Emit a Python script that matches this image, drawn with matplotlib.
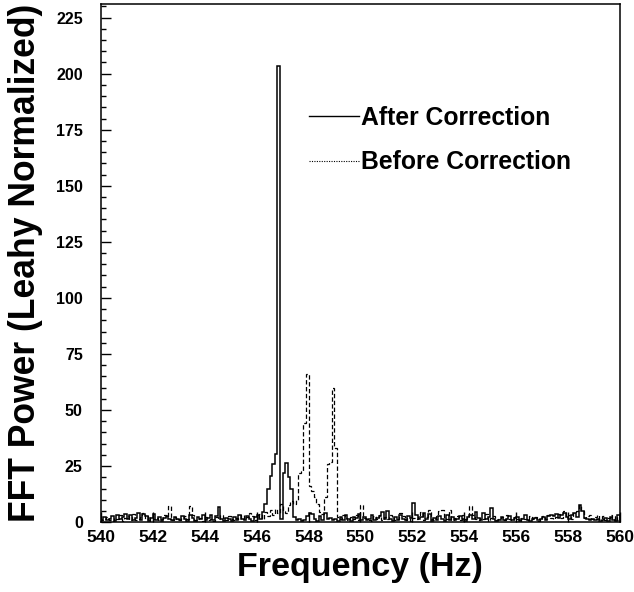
import numpy as np
import matplotlib
matplotlib.use('Agg')
import matplotlib.pyplot as plt
from matplotlib.lines import Line2D

plt.rcParams['font.family'] = ['Liberation Sans', 'DejaVu Sans']
plt.rcParams['font.weight'] = 'bold'

# frequency bins, 0.1 Hz wide
bin_edges = np.linspace(540.0, 560.0, 201)

# Leahy-normalized power after correction (one row per Hz)
after_power = [
    1.0, 2.2, 0.8, 1.5, 2.8, 0.6, 3.0, 1.2, 2.5, 3.8,
    1.4, 3.2, 0.9, 2.0, 4.0, 1.1, 3.5, 2.6, 0.7, 1.9,
    3.6, 1.0, 2.4, 0.5, 1.7, 2.9, 1.3, 0.8, 2.2, 1.6,
    0.9, 2.7, 1.4, 0.6, 3.1, 1.8, 0.7, 2.5, 1.2, 3.3,
    0.8, 1.9, 3.4, 1.1, 2.6, 6.8, 1.5, 0.4, 2.0, 1.2,
    0.6, 2.3, 1.0, 3.0, 1.6, 0.9, 2.8, 1.3, 0.5, 2.1,
    3.2, 1.4, 4.5, 8.0, 15.0, 20.5, 26.0, 30.5, 203.5, 1.5,
    22.0, 26.5, 20.0, 15.0, 2.5, 0.8, 1.2, 0.5, 1.0, 2.6,
    4.0, 3.5, 1.2, 0.6, 2.8, 1.0, 4.2, 1.5, 2.0, 0.8,
    1.6, 0.7, 2.4, 1.1, 3.0, 1.3, 0.5, 2.2, 1.8, 3.6,
    1.0, 2.5, 0.8, 1.4, 3.2, 0.9, 1.7, 2.8, 4.5, 1.2,
    5.0, 1.3, 0.6, 2.2, 1.0, 3.3, 1.5, 0.8, 2.6, 1.9,
    8.5, 3.0, 1.2, 2.4, 4.0, 1.6, 3.5, 0.7, 2.0, 1.1,
    2.8, 1.4, 0.5, 3.2, 1.0, 2.2, 0.8, 1.6, 2.9, 1.2,
    0.7, 2.4, 3.0, 1.5, 4.6, 2.0, 0.9, 4.0, 1.3, 2.5,
    6.5, 1.2, 0.6, 1.0, 2.2, 0.8, 1.5, 2.7, 0.9, 1.8,
    2.4, 0.7, 1.6, 3.2, 1.0, 0.5, 1.3, 2.0, 0.8, 1.4,
    2.2, 1.0, 2.8, 3.4, 2.6, 3.6, 1.8, 3.0, 4.2, 2.5,
    1.6, 3.4, 4.0, 2.2, 7.5, 5.0, 2.0, 1.2, 0.8, 1.5,
    0.9, 1.3, 0.6, 1.0, 1.8, 0.7, 2.2, 1.1, 0.5, 3.0,
]

# Leahy-normalized power before correction
before_power = [
    0.8, 1.6, 2.4, 1.0, 0.5, 2.0, 1.3, 3.0, 0.7, 1.8,
    2.6, 1.1, 3.5, 0.9, 1.5, 2.2, 4.0, 1.4, 2.8, 0.6,
    1.2, 2.0, 0.8, 1.6, 3.0, 2.4, 7.0, 1.0, 2.2, 1.5,
    0.9, 1.8, 2.6, 1.2, 7.2, 3.0, 0.8, 1.4, 2.0, 0.6,
    2.4, 1.0, 1.6, 0.7, 2.2, 1.3, 3.0, 1.8, 0.9, 2.6,
    1.4, 0.8, 2.0, 1.2, 3.2, 1.6, 2.4, 4.0, 2.8, 1.0,
    2.0, 3.5, 1.4, 4.5, 2.6, 5.5, 3.0, 6.0, 4.2, 8.0,
    5.0, 4.0, 7.5, 9.5, 8.0, 10.0, 22.0, 23.0, 44.0, 66.0,
    16.0, 14.0, 11.0, 8.0, 4.5, 3.5, 11.0, 26.0, 27.0, 60.0,
    33.0, 2.5, 1.2, 3.0, 1.8, 0.9, 2.2, 1.5, 3.4, 1.0,
    7.5, 2.0, 1.4, 1.1, 0.6, 2.8, 1.6, 3.2, 0.9, 2.4,
    1.2, 3.0, 2.2, 0.8, 1.5, 4.0, 2.6, 1.0, 1.8, 0.7,
    2.0, 1.4, 3.2, 4.5, 1.0, 2.4, 5.5, 1.6, 0.8, 2.8,
    5.0, 5.5, 2.4, 1.2, 5.2, 0.9, 1.8, 2.6, 1.0, 3.2,
    1.4, 2.2, 7.0, 3.0, 1.2, 0.8, 2.0, 1.5, 3.5, 0.7,
    1.8, 2.6, 0.9, 1.4, 2.2, 1.0, 3.0, 1.6, 0.8, 2.4,
    1.2, 0.6, 2.0, 1.5, 0.9, 2.8, 1.3, 2.2, 0.7, 1.6,
    2.6, 1.4, 3.0, 2.0, 1.2, 2.4, 3.6, 1.8, 5.0, 2.2,
    3.0, 1.6, 4.2, 5.0, 7.5, 4.8, 2.0, 2.6, 3.0, 1.4,
    2.2, 3.0, 1.5, 2.6, 1.0, 2.0, 3.4, 1.2, 2.8, 0.8,
]

x_ticks = np.arange(540, 561, 2)
y_ticks = np.arange(0, 226, 25)

fig = plt.figure(figsize=(6.34, 5.92), dpi=100)
ax = fig.add_axes([0.159, 0.118, 0.819, 0.875])

ax.stairs(before_power, bin_edges, color='black', lw=0.9, linestyle=(0, (3.5, 2)))
ax.stairs(after_power, bin_edges, color='black', lw=1.1)

ax.set_xlim(540, 560)
ax.set_ylim(0, 231)
ax.set_xticks(x_ticks)
ax.set_yticks(y_ticks)
ax.set_yticks(np.arange(0, 231, 5), minor=True)
ax.tick_params(direction='in', which='major', length=7, width=1)
ax.tick_params(direction='in', which='minor', length=3.5, width=1)
ax.tick_params(axis='x', which='minor', length=0)
ax.tick_params(axis='x', labelsize=12.5, pad=6)
ax.tick_params(axis='y', labelsize=11.5, pad=13)
for lab in ax.get_xticklabels() + ax.get_yticklabels():
    lab.set_fontweight('bold')
for sp in ax.spines.values():
    sp.set_linewidth(1.1)

ax.set_xlabel('Frequency (Hz)', fontsize=24.5, fontweight='bold', labelpad=5)
ax.set_ylabel('FFT Power (Leahy Normalized)', fontsize=25.6, fontweight='bold', labelpad=9)

# legend with a dotted marker for the uncorrected curve, as in the original
handles = [Line2D([], [], color='black', lw=1.0),
           Line2D([], [], color='black', lw=0.8, linestyle=(0, (1, 1.2)))]
ax.legend(handles, ['After Correction', 'Before Correction'], loc='upper left',
          bbox_to_anchor=(0.40, 0.804), frameon=False,
          borderpad=0, borderaxespad=0,
          handlelength=2.05, handletextpad=0.08, labelspacing=0.83,
          prop={'weight': 'bold', 'size': 17.8})

fig.savefig('out.png', dpi=100)
